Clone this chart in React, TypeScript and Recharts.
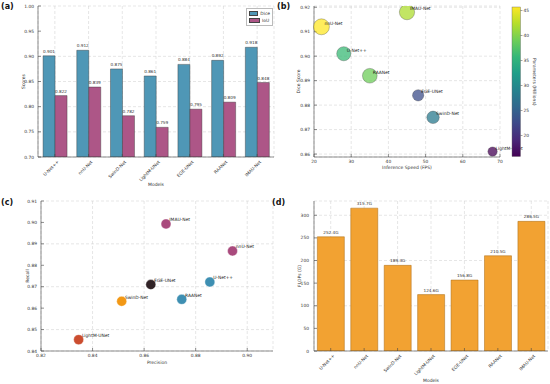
import React from "react";
import {
  Bar,
  BarChart,
  CartesianGrid,
  Label,
  LabelList,
  Legend,
  Scatter,
  ScatterChart,
  XAxis,
  YAxis,
  ZAxis,
} from "recharts";

// ---- data ----
const models = ["U-Net++", "nnU-Net", "SwinD-Net", "LightM-UNet", "EGE-UNet", "RAANet", "IMAU-Net"];
const dice = [0.901, 0.912, 0.875, 0.861, 0.884, 0.892, 0.918];
const iou = [0.822, 0.839, 0.782, 0.759, 0.795, 0.809, 0.848];
const fps = [28, 22, 52, 68, 48, 35, 45];
const params = [36, 45.7, 28, 15.8, 23, 39, 42];
const precision = [0.8855, 0.8943, 0.8513, 0.8346, 0.8626, 0.8746, 0.8685];
const recall = [0.8722, 0.8867, 0.8632, 0.8453, 0.871, 0.8641, 0.8993];
const flops = [252.4, 315.7, 189.3, 124.6, 156.8, 210.5, 286.5];

const scoreTicks = [0.7, 0.75, 0.8, 0.85, 0.9, 0.95, 1.0];
const fpsTicks = [20, 30, 40, 50, 60, 70];
const diceTicks = [0.86, 0.87, 0.88, 0.89, 0.9, 0.91, 0.92];
const precisionTicks = [0.82, 0.84, 0.86, 0.88, 0.9];
const recallTicks = [0.84, 0.85, 0.86, 0.87, 0.88, 0.89, 0.9, 0.91];
const flopsTicks = [0, 50, 100, 150, 200, 250, 300];
const paramTicks = [20, 25, 30, 35, 40, 45];

// ---- styles ----
const FONT = "'DejaVu Sans', sans-serif";
const AXIS = "#444";
const GRID = "#cccccc";
const tick = { fontSize: 4.4, fill: "#333" };
const title = { fontSize: 4.5, fill: "#333" };
const DICE_COL = "#4f97b6";
const IOU_COL = "#ad5687";
const FLOPS_COL = "#f2a232";
const modelColors: Record<string, string> = {
  "U-Net++": "#2E86AB",
  "nnU-Net": "#A23B72",
  "SwinD-Net": "#F18F01",
  "LightM-UNet": "#C73E1D",
  "EGE-UNet": "#1e0f14",
  RAANet: "#2E86AB",
  "IMAU-Net": "#A23B72",
};

const viridisStops = [
  "#440154", "#482878", "#3e4989", "#31688e", "#26828e",
  "#1f9e89", "#35b779", "#6ece58", "#b5de2b", "#fde725",
];
const pMin = Math.min(...params);
const pMax = Math.max(...params);

function viridis(v: number) {
  const t = Math.max(0, Math.min(1, (v - pMin) / (pMax - pMin)));
  const s = t * (viridisStops.length - 1);
  const i = Math.min(Math.floor(s), viridisStops.length - 2);
  const f = s - i;
  const a = viridisStops[i], b = viridisStops[i + 1];
  const ch = (h: string, k: number) => parseInt(h.slice(1 + 2 * k, 3 + 2 * k), 16);
  const c = [0, 1, 2].map((k) => Math.round(ch(a, k) + (ch(b, k) - ch(a, k)) * f));
  return `rgb(${c[0]},${c[1]},${c[2]})`;
}

function SlantTick(props: any) {
  const { x, y, payload } = props;
  return (
    <text
      transform={`translate(${x + 2},${y - 1}) rotate(-45)`}
      textAnchor="end"
      dy={3.2}
      fontSize={4.4}
      fill="#333"
    >
      {payload.value}
    </text>
  );
}

function PanelA() {
  const data = models.map((m, i) => ({ model: m, dice: dice[i], iou: iou[i] }));
  return (
    <BarChart
      width={280}
      height={192}
      data={data}
      margin={{ top: 6, right: 6, bottom: 0, left: 0 }}
      barCategoryGap="15%"
      barGap={0}
    >
      <CartesianGrid stroke={GRID} strokeDasharray="3 2" strokeWidth={0.5} />
      <XAxis dataKey="model" height={35} interval={0} tick={<SlantTick />} tickSize={-3} tickMargin={7} stroke={AXIS} strokeWidth={0.6}>
        <Label value="Models" position="insideBottom" offset={6} style={title} />
      </XAxis>
      <XAxis xAxisId="top" dataKey="model" orientation="top" height={0} tick={false} tickLine={false} stroke={AXIS} strokeWidth={0.6} />
      <YAxis
        width={38}
        domain={[0.7, 1]}
        ticks={scoreTicks}
        allowDataOverflow
        tickFormatter={(v: number) => v.toFixed(2)}
        tick={tick}
        tickSize={-3}
        tickMargin={7}
        stroke={AXIS}
        strokeWidth={0.6}
      >
        <Label value="Scores" angle={-90} position="insideLeft" offset={23} style={{ ...title, textAnchor: "middle" }} />
      </YAxis>
      <YAxis yAxisId="r" orientation="right" width={0} tick={false} tickLine={false} stroke={AXIS} strokeWidth={0.6} />
      <Legend
        layout="horizontal"
        verticalAlign="middle"
        align="center"
        wrapperStyle={{ left: 246, top: 8, width: 27, height: 16 }}
        content={(p: any) => (
          <div style={{ border: "0.5px solid #bbb", background: "#fff", padding: "1px 2px", fontSize: 4.4, color: "#333", fontFamily: FONT }}>
            {(p.payload || []).map((e: any) => (
              <div key={e.value} style={{ display: "flex", alignItems: "center", height: 7 }}>
                <span style={{ width: 9, height: 3.5, background: e.color, border: "0.5px solid #444", marginRight: 2 }} />
                {e.value}
              </div>
            ))}
          </div>
        )}
      />
      <Bar dataKey="dice" name="Dice" fill={DICE_COL} stroke="#333" strokeWidth={0.4} isAnimationActive={false}>
        <LabelList dataKey="dice" position="top" offset={3} formatter={(v: any) => Number(v).toFixed(3)} style={{ fontSize: 4.2, fill: "#333" }} />
      </Bar>
      <Bar dataKey="iou" name="IoU" fill={IOU_COL} stroke="#333" strokeWidth={0.4} isAnimationActive={false}>
        <LabelList dataKey="iou" position="top" offset={3} formatter={(v: any) => Number(v).toFixed(3)} style={{ fontSize: 4.2, fill: "#333" }} />
      </Bar>
    </BarChart>
  );
}

function PanelB() {
  const data = models.map((m, i) => ({ model: m, fps: fps[i], dice: dice[i], params: params[i] }));
  return (
    <ScatterChart width={275} height={192} margin={{ top: 6, right: 50, bottom: 0, left: 0 }}>
      <CartesianGrid stroke={GRID} strokeDasharray="3 2" strokeWidth={0.5} />
      <XAxis type="number" dataKey="fps" domain={[20, 70]} ticks={fpsTicks} height={35} tick={tick} tickSize={-3} tickMargin={6} stroke={AXIS} strokeWidth={0.6}>
        <Label value="Inference Speed (FPS)" position="insideBottom" offset={23} style={title} />
      </XAxis>
      <XAxis xAxisId="top" type="number" domain={[20, 70]} orientation="top" height={0} tick={false} tickLine={false} stroke={AXIS} strokeWidth={0.6} />
      <YAxis
        type="number"
        dataKey="dice"
        width={39}
        domain={[0.8588, 0.9205]}
        ticks={diceTicks}
        allowDataOverflow
        tickFormatter={(v: number) => v.toFixed(2)}
        tick={tick}
        tickSize={-3}
        tickMargin={7}
        stroke={AXIS}
        strokeWidth={0.6}
      >
        <Label value="Dice Score" angle={-90} position="insideLeft" offset={23} style={{ ...title, textAnchor: "middle" }} />
      </YAxis>
      <YAxis yAxisId="r" type="number" domain={[0.8588, 0.9205]} orientation="right" width={0} tick={false} tickLine={false} stroke={AXIS} strokeWidth={0.6} />
      <ZAxis type="number" dataKey="params" domain={[0, pMax]} range={[0, 200]} />
      <Scatter
        data={data}
        isAnimationActive={false}
        shape={(p: any) => (
          <circle
            cx={p.cx}
            cy={p.cy}
            r={p.width ? p.width / 2 : Math.sqrt(p.size / Math.PI)}
            fill={viridis(p.payload.params)}
            fillOpacity={0.75}
            stroke="#333"
            strokeOpacity={0.6}
            strokeWidth={0.5}
          />
        )}
      />
      <Scatter
        data={data}
        isAnimationActive={false}
        shape={(p: any) => (
          <text x={p.cx + 3} y={p.cy - 2} fontSize={4.4} fill="#222">
            {p.payload.model}
          </text>
        )}
      />
    </ScatterChart>
  );
}

function ColorBar() {
  const top = 7, bottom = 156.5, h = bottom - top;
  const yOf = (v: number) => bottom - ((v - pMin) / (pMax - pMin)) * h;
  return (
    <svg width={45} height={192} style={{ position: "absolute", left: 505, top: 0 }}>
      <defs>
        <linearGradient id="vir" x1="0" y1="1" x2="0" y2="0">
          {viridisStops.map((c, i) => (
            <stop key={c} offset={i / (viridisStops.length - 1)} stopColor={c} />
          ))}
        </linearGradient>
      </defs>
      <rect x={7} y={top} width={8.5} height={h} fill="url(#vir)" stroke="#666" strokeWidth={0.4} />
      {paramTicks.map((v) => (
        <g key={v}>
          <line x1={15.5} x2={17.5} y1={yOf(v)} y2={yOf(v)} stroke="#444" strokeWidth={0.5} />
          <text x={18.5} y={yOf(v)} dy={1.5} fontSize={4.4} fill="#333">
            {v}
          </text>
        </g>
      ))}
      <text transform={`translate(28,${(top + bottom) / 2}) rotate(90)`} textAnchor="middle" fontSize={4.5} fill="#333">
        Parameters (Millions)
      </text>
    </svg>
  );
}

function PanelC() {
  const data = models.map((m, i) => ({ model: m, precision: precision[i], recall: recall[i] }));
  return (
    <ScatterChart width={280} height={192} margin={{ top: 9, right: 7, bottom: 0, left: 0 }}>
      <CartesianGrid stroke={GRID} strokeDasharray="3 2" strokeWidth={0.5} />
      <XAxis type="number" dataKey="precision" domain={[0.82, 0.91]} ticks={precisionTicks} allowDataOverflow height={33} tickFormatter={(v: number) => v.toFixed(2)} tick={tick} tickSize={-3} tickMargin={6} stroke={AXIS} strokeWidth={0.6}>
        <Label value="Precision" position="insideBottom" offset={20} style={title} />
      </XAxis>
      <XAxis xAxisId="top" type="number" domain={[0.82, 0.91]} orientation="top" height={0} tick={false} tickLine={false} stroke={AXIS} strokeWidth={0.6} />
      <YAxis
        type="number"
        dataKey="recall"
        width={41}
        domain={[0.84, 0.91]}
        ticks={recallTicks}
        allowDataOverflow
        tickFormatter={(v: number) => v.toFixed(2)}
        tick={tick}
        tickSize={-3}
        tickMargin={7}
        stroke={AXIS}
        strokeWidth={0.6}
      >
        <Label value="Recall" angle={-90} position="insideLeft" offset={27} style={{ ...title, textAnchor: "middle" }} />
      </YAxis>
      <YAxis yAxisId="r" type="number" domain={[0.84, 0.91]} orientation="right" width={0} tick={false} tickLine={false} stroke={AXIS} strokeWidth={0.6} />
      <ZAxis range={[80, 80]} />
      <Scatter
        data={data}
        isAnimationActive={false}
        shape={(p: any) => (
          <circle cx={p.cx} cy={p.cy} r={5} fill={modelColors[p.payload.model]} fillOpacity={0.92} stroke="#fff" strokeWidth={0.4} />
        )}
      />
      <Scatter
        data={data}
        isAnimationActive={false}
        shape={(p: any) => (
          <text x={p.cx + 3.3} y={p.cy - 2.7} fontSize={4.4} fill="#222">
            {p.payload.model}
          </text>
        )}
      />
    </ScatterChart>
  );
}

function PanelD() {
  const data = models.map((m, i) => ({ model: m, flops: flops[i] }));
  return (
    <BarChart width={275} height={192} data={data} margin={{ top: 9, right: 2, bottom: 0, left: 0 }} barCategoryGap="10%">
      <CartesianGrid stroke={GRID} strokeDasharray="3 2" strokeWidth={0.5} />
      <XAxis dataKey="model" height={33} interval={0} tick={<SlantTick />} tickSize={-3} tickMargin={7} stroke={AXIS} strokeWidth={0.6}>
        <Label value="Models" position="insideBottom" offset={2} style={title} />
      </XAxis>
      <XAxis xAxisId="top" dataKey="model" orientation="top" height={0} tick={false} tickLine={false} stroke={AXIS} strokeWidth={0.6} />
      <YAxis width={39} domain={[0, 331.5]} ticks={flopsTicks} allowDataOverflow tick={tick} tickSize={-3} tickMargin={8} stroke={AXIS} strokeWidth={0.6}>
        <Label value="FLOPs (G)" angle={-90} position="insideLeft" offset={24} style={{ ...title, textAnchor: "middle" }} />
      </YAxis>
      <YAxis yAxisId="r" orientation="right" width={0} tick={false} tickLine={false} stroke={AXIS} strokeWidth={0.6} />
      <Bar dataKey="flops" fill={FLOPS_COL} stroke="#a86a15" strokeWidth={0.5} isAnimationActive={false}>
        <LabelList dataKey="flops" position="top" offset={3} formatter={(v: any) => `${Number(v).toFixed(1)}G`} style={{ fontSize: 4.2, fill: "#333" }} />
      </Bar>
    </BarChart>
  );
}

export default function App() {
  const cell = (left: number, top: number): React.CSSProperties => ({ position: "absolute", left, top });
  return (
    <div style={{ position: "absolute", left: 0, top: 0, width: 550, height: 384, background: "#fff", fontFamily: FONT, overflow: "hidden" }}>
      <div style={cell(0, 0)}>
        <PanelA />
      </div>
      <div style={cell(275, 0)}>
        <PanelB />
      </div>
      <ColorBar />
      <div style={cell(0, 192)}>
        <PanelC />
      </div>
      <div style={cell(275, 192)}>
        <PanelD />
      </div>
      <svg width={550} height={384} style={{ position: "absolute", left: 0, top: 0, pointerEvents: "none" }}>
        <g fontSize={8} fontWeight="bold" fill="#111">
          <text x={1} y={9}>(a)</text>
          <text x={277} y={9}>(b)</text>
          <text x={1} y={205}>(c)</text>
          <text x={272} y={205}>(d)</text>
        </g>
      </svg>
    </div>
  );
}
